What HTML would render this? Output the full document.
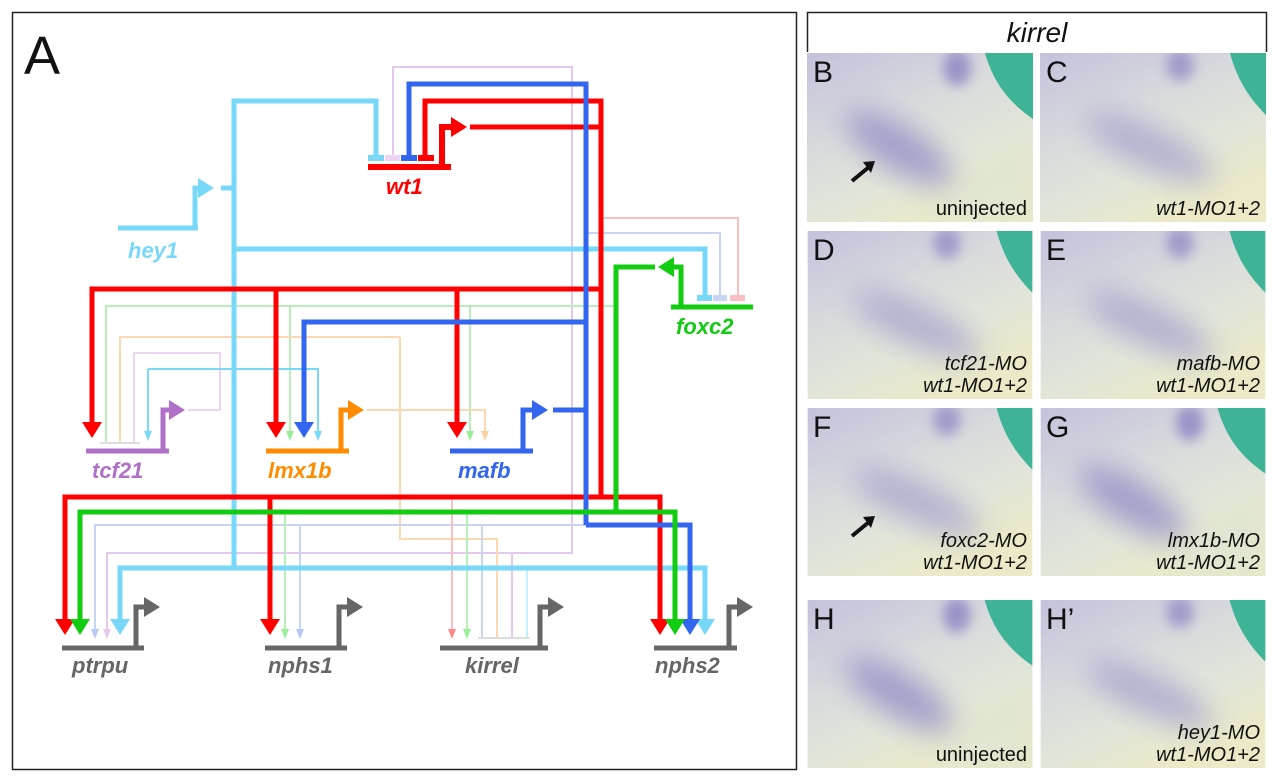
<!DOCTYPE html>
<html><head><meta charset="utf-8"><style>
body{margin:0;background:#fff;width:1280px;height:782px;overflow:hidden;position:relative;font-family:"Liberation Sans",sans-serif}
.ph{position:absolute;width:226px;overflow:hidden}
.ph svg{position:absolute;left:0;top:0}
.ph .l{position:absolute;left:6px;top:3px;font-size:30px;color:#111}
.ph .t{position:absolute;right:6px;bottom:2px;font-size:20px;color:#111;text-align:right;line-height:22px}
.ph .i{font-style:italic}
</style></head><body>
<svg width="0" height="0" style="position:absolute">
<defs>
<filter id="bl" x="-50%" y="-50%" width="200%" height="200%"><feGaussianBlur stdDeviation="14"/></filter>
<filter id="bl2" x="-50%" y="-50%" width="200%" height="200%"><feGaussianBlur stdDeviation="6"/></filter>
<linearGradient id="bg" x1="0" y1="0" x2="0.6" y2="1"><stop offset="0" stop-color="#c4c2dc"/><stop offset="0.45" stop-color="#d9dbdc"/><stop offset="0.75" stop-color="#e2e6d8"/><stop offset="1" stop-color="#ece9c6"/></linearGradient>
<symbol id="photo" viewBox="0 0 226 169">
<rect width="226" height="169" fill="url(#bg)"/>
<path d="M140 0 C150 40 190 60 226 80 L226 169 L120 169 C160 120 200 100 226 90" fill="#d6e4dc" opacity="0.5" filter="url(#bl)"/>
<ellipse cx="92" cy="95" rx="62" ry="22" transform="rotate(32 92 95)" fill="#8a82c4" opacity="0.7" filter="url(#bl)"/>
<ellipse cx="150" cy="15" rx="14" ry="18" fill="#8078c0" opacity="0.7" filter="url(#bl2)"/>
<path d="M178 0 C186 28 200 48 226 66 L226 0Z" fill="#3fb396"/>
</symbol>
<symbol id="photo2" viewBox="0 0 226 169">
<rect width="226" height="169" fill="url(#bg)"/>
<ellipse cx="110" cy="95" rx="70" ry="20" transform="rotate(25 110 95)" fill="#9088c8" opacity="0.55" filter="url(#bl)"/>
<ellipse cx="140" cy="12" rx="14" ry="16" fill="#8078c0" opacity="0.6" filter="url(#bl2)"/>
<path d="M190 0 C198 30 212 48 226 62 L226 0Z" fill="#3fb396"/>
</symbol>
</defs>
</svg>
<svg width="1280" height="782" style="position:absolute;left:0;top:0">
<defs>
<marker id="mR" viewBox="0 0 16 20" refX="1" refY="10" markerWidth="16" markerHeight="20" markerUnits="userSpaceOnUse" orient="auto"><path d="M0 0L16 10L0 20z" fill="#f00"/></marker>
<marker id="mB" viewBox="0 0 16 20" refX="1" refY="10" markerWidth="16" markerHeight="20" markerUnits="userSpaceOnUse" orient="auto"><path d="M0 0L16 10L0 20z" fill="#3366ee"/></marker>
<marker id="mG" viewBox="0 0 16 20" refX="1" refY="10" markerWidth="16" markerHeight="20" markerUnits="userSpaceOnUse" orient="auto"><path d="M0 0L16 10L0 20z" fill="#11cc11"/></marker>
<marker id="mC" viewBox="0 0 16 20" refX="1" refY="10" markerWidth="16" markerHeight="20" markerUnits="userSpaceOnUse" orient="auto"><path d="M0 0L16 10L0 20z" fill="#77d8f8"/></marker>
<marker id="mK" viewBox="0 0 16 20" refX="1" refY="10" markerWidth="16" markerHeight="20" markerUnits="userSpaceOnUse" orient="auto"><path d="M0 0L16 10L0 20z" fill="#666"/></marker>
<marker id="mP" viewBox="0 0 16 20" refX="1" refY="10" markerWidth="16" markerHeight="20" markerUnits="userSpaceOnUse" orient="auto"><path d="M0 0L16 10L0 20z" fill="#b070c8"/></marker>
<marker id="mO" viewBox="0 0 16 20" refX="1" refY="10" markerWidth="16" markerHeight="20" markerUnits="userSpaceOnUse" orient="auto"><path d="M0 0L16 10L0 20z" fill="#ff8c00"/></marker>
<marker id="tR" viewBox="0 0 10 8" refX="1" refY="4" markerWidth="10" markerHeight="8" markerUnits="userSpaceOnUse" orient="auto"><path d="M0 0L10 4L0 8z" fill="#f88"/></marker>
<marker id="tG" viewBox="0 0 10 8" refX="1" refY="4" markerWidth="10" markerHeight="8" markerUnits="userSpaceOnUse" orient="auto"><path d="M0 0L10 4L0 8z" fill="#9e9"/></marker>
<marker id="tB" viewBox="0 0 10 8" refX="1" refY="4" markerWidth="10" markerHeight="8" markerUnits="userSpaceOnUse" orient="auto"><path d="M0 0L10 4L0 8z" fill="#b8c8f4"/></marker>
<marker id="tO" viewBox="0 0 10 8" refX="1" refY="4" markerWidth="10" markerHeight="8" markerUnits="userSpaceOnUse" orient="auto"><path d="M0 0L10 4L0 8z" fill="#fcd0a0"/></marker>
<marker id="tL" viewBox="0 0 10 8" refX="1" refY="4" markerWidth="10" markerHeight="8" markerUnits="userSpaceOnUse" orient="auto"><path d="M0 0L10 4L0 8z" fill="#e4c8ee"/></marker>
<marker id="tC" viewBox="0 0 10 8" refX="1" refY="4" markerWidth="10" markerHeight="8" markerUnits="userSpaceOnUse" orient="auto"><path d="M0 0L10 4L0 8z" fill="#77d8f8"/></marker>
</defs>
<rect x="12.5" y="12.5" width="784" height="757" fill="none" stroke="#222" stroke-width="1.5"/>
<text x="24" y="74" font-size="54" font-family="Liberation Sans" fill="#111">A</text>

<g fill="none" stroke-width="2">
<path d="M393 157V67H572V553H107V630" stroke="#e4c8ee" marker-end="url(#tL)"/>
<path d="M512 553V638" stroke="#e4c8ee"/>
<path d="M604 218H738V297" stroke="#f8c0c0"/>
<path d="M588 233H720V297" stroke="#c8d4f4"/>
<path d="M614 306H106V443" stroke="#b8eeb8"/>
<path d="M290 306V432" stroke="#b8eeb8" marker-end="url(#tG)"/>
<path d="M470 306V432" stroke="#b8eeb8" marker-end="url(#tG)"/>
<path d="M400 337H120V443M400 337V539H497V638" stroke="#fcd8b0"/>
<path d="M220 410V353H134V443M188 410H220" stroke="#ecd4f2"/>
<path d="M367 410H485V432" stroke="#fcd8b0" marker-end="url(#tO)"/>
<path d="M148 369H318V432" stroke="#77d8f8" marker-end="url(#tC)"/>
<path d="M148 369V432" stroke="#77d8f8" marker-end="url(#tC)"/>
<path d="M586 525H95V630" stroke="#c8d4f4" marker-end="url(#tB)"/>
<path d="M300 525V630" stroke="#c8d4f4" marker-end="url(#tB)"/>
<path d="M482 525V638" stroke="#c8d4f4"/>
<path d="M285 512V630" stroke="#b8eeb8" marker-end="url(#tG)"/>
<path d="M467 512V630" stroke="#b8eeb8" marker-end="url(#tG)"/>
<path d="M452 497V630" stroke="#f8c0c0" marker-end="url(#tR)"/>
<path d="M527 568V638" stroke="#c8f0fc"/>
<path d="M100 443H140M478 638H530" stroke="#ddd"/>
</g>

<g fill="none" stroke-width="5">
<path d="M118 228H198M195 228V188H199" stroke="#77d8f8" marker-end="url(#mC)"/>
<path d="M221 188H234M234 568V101H376V157" stroke="#77d8f8"/>
<path d="M234 249H705V297" stroke="#77d8f8"/>
<path d="M120 620V568H705V620" stroke="#77d8f8" marker-end="url(#mC)"/>
<path d="M120 580V620" stroke="#77d8f8" marker-end="url(#mC)"/>
<path d="M368 167H451M442 167V127H452" stroke="#f00" stroke-width="6" marker-end="url(#mR)"/>
<path d="M470 127H601M425 157V101H601V497" stroke="#f00"/>
<path d="M601 289H92V423" stroke="#f00" marker-end="url(#mR)"/>
<path d="M276 289V423" stroke="#f00" marker-end="url(#mR)"/>
<path d="M457 289V423" stroke="#f00" marker-end="url(#mR)"/>
<path d="M601 497H65V620" stroke="#f00" marker-end="url(#mR)"/>
<path d="M270 497V620" stroke="#f00" marker-end="url(#mR)"/>
<path d="M601 497H660V620" stroke="#f00" marker-end="url(#mR)"/>
<path d="M450 451H533M523 451V410H533" stroke="#3366ee" marker-end="url(#mB)"/>
<path d="M553 410H586M586 525V84H409V157" stroke="#3366ee"/>
<path d="M586 322H304V423" stroke="#3366ee" marker-end="url(#mB)"/>
<path d="M586 525H690V620" stroke="#3366ee" marker-end="url(#mB)"/>
<path d="M671 307H753M681 307V267H673" stroke="#11cc11" marker-end="url(#mG)"/>
<path d="M655 267H616V512" stroke="#11cc11"/>
<path d="M616 512H80V620" stroke="#11cc11" marker-end="url(#mG)"/>
<path d="M616 512H675V620" stroke="#11cc11" marker-end="url(#mG)"/>
<path d="M86 451H169M163 451V410H170" stroke="#b070c8" marker-end="url(#mP)"/>
<path d="M266 451H349M341 451V410H349" stroke="#ff8c00" marker-end="url(#mO)"/>
<path d="M62 648H144M136 648V607H145" stroke="#666" marker-end="url(#mK)"/>
<path d="M265 648H347M339 648V607H348" stroke="#666" marker-end="url(#mK)"/>
<path d="M440 648H548M540 648V607H549" stroke="#666" marker-end="url(#mK)"/>
<path d="M654 648H737M729 648V607H738" stroke="#666" marker-end="url(#mK)"/>
</g>
<g stroke-width="6">
<path d="M368 158H384" stroke="#77d8f8"/><path d="M385 158H400" stroke="#ecd4f2"/>
<path d="M401 158H417" stroke="#3366ee"/><path d="M418 158H434" stroke="#f00"/>
<path d="M697 298H712" stroke="#77d8f8"/><path d="M713 298H727" stroke="#c8d4f4"/><path d="M730 298H745" stroke="#f8c0c0"/>
</g>
<g font-family="Liberation Sans" font-weight="bold" font-style="italic" font-size="22">
<text x="386" y="194" fill="#f00">wt1</text>
<text x="128" y="258" fill="#77d8f8">hey1</text>
<text x="676" y="334" fill="#11cc11">foxc2</text>
<text x="92" y="478" fill="#b070c8">tcf21</text>
<text x="268" y="478" fill="#ff8c00">lmx1b</text>
<text x="458" y="478" fill="#3366ee">mafb</text>
<text x="72" y="673" fill="#666">ptrpu</text>
<text x="268" y="673" fill="#666">nphs1</text>
<text x="465" y="673" fill="#666">kirrel</text>
<text x="655" y="673" fill="#666">nphs2</text>
</g>
<path d="M807.5 52V12.5H1266.5V52" fill="none" stroke="#222" stroke-width="1.5"/>
<text x="1037" y="42" font-family="Liberation Sans" font-style="italic" font-size="28" text-anchor="middle" fill="#111">kirrel</text>
</svg>

<div class="ph" style="left:807px;top:53px;height:169px"><svg width="226" height="169" preserveAspectRatio="none"><use href="#photo"/><path d="M45 128L62 114" stroke="#111" stroke-width="4"/><path d="M56 109L68 108L64 120Z" fill="#111"/></svg><div class="l">B</div><div class="t">uninjected</div></div>
<div class="ph" style="left:1040px;top:53px;height:169px"><svg width="226" height="169" preserveAspectRatio="none"><use href="#photo2"/></svg><div class="l">C</div><div class="t i">wt1-MO1+2</div></div>
<div class="ph" style="left:807px;top:231px;height:168px"><svg width="226" height="168" preserveAspectRatio="none"><use href="#photo2"/></svg><div class="l">D</div><div class="t i">tcf21-MO<br>wt1-MO1+2</div></div>
<div class="ph" style="left:1040px;top:231px;height:168px"><svg width="226" height="168" preserveAspectRatio="none"><use href="#photo2"/></svg><div class="l">E</div><div class="t i">mafb-MO<br>wt1-MO1+2</div></div>
<div class="ph" style="left:807px;top:408px;height:168px"><svg width="226" height="168" preserveAspectRatio="none"><use href="#photo2"/><path d="M45 128L62 114" stroke="#111" stroke-width="4"/><path d="M56 109L68 108L64 120Z" fill="#111"/></svg><div class="l">F</div><div class="t i">foxc2-MO<br>wt1-MO1+2</div></div>
<div class="ph" style="left:1040px;top:408px;height:168px"><svg width="226" height="168" preserveAspectRatio="none"><use href="#photo"/></svg><div class="l">G</div><div class="t i">lmx1b-MO<br>wt1-MO1+2</div></div>
<div class="ph" style="left:807px;top:600px;height:168px"><svg width="226" height="168" preserveAspectRatio="none"><use href="#photo"/></svg><div class="l">H</div><div class="t">uninjected</div></div>
<div class="ph" style="left:1040px;top:600px;height:168px"><svg width="226" height="168" preserveAspectRatio="none"><use href="#photo2"/></svg><div class="l">H’</div><div class="t i">hey1-MO<br>wt1-MO1+2</div></div>
</body></html>
